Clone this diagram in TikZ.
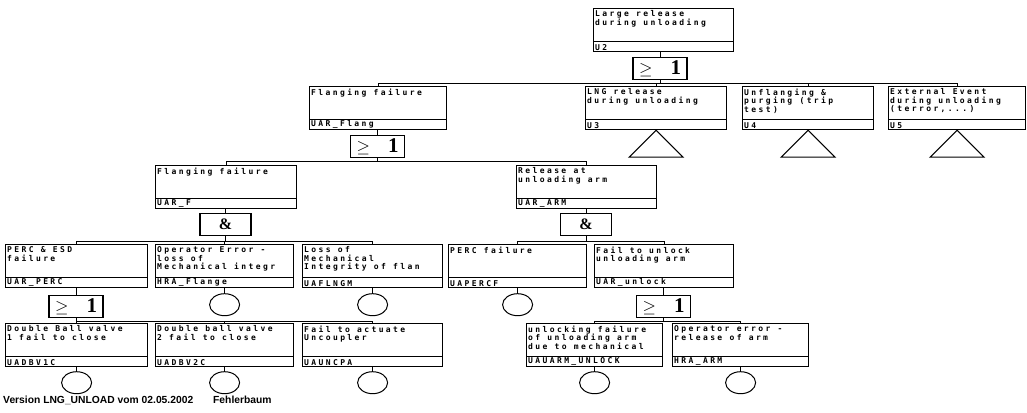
\documentclass[tikz,border=0pt]{standalone}
\usepackage{fontspec}
\setmainfont{Liberation Sans}
\newfontfamily\boxfont[LetterSpace=30,BoldFont={DejaVu Sans Mono Bold}]{DejaVu Sans Mono}
\newfontfamily\gatefont{Liberation Serif}
\usetikzlibrary{shapes.geometric,calc}

\tikzset{
 ftbox/.style={draw, line width=1.2pt, rectangle, minimum height=43pt, inner sep=0pt, anchor=north west},
 ftdesc/.style={anchor=north west, inner sep=0pt, align=left, font=\boxfont\bfseries\fontsize{8}{8.6}\selectfont},
 ftcode/.style={anchor=south west, inner sep=0pt, font=\boxfont\bfseries\fontsize{8}{8.6}\selectfont},
 ftdiv/.style={line width=1pt},
 gatebox/.style={draw, line width=1.2pt, rectangle, minimum width=54pt, minimum height=22pt, inner sep=0pt, anchor=north},
 andgate/.style={gatebox, minimum width=51pt},
 ftbasic/.style={draw, line width=1pt, ellipse, minimum width=30pt, minimum height=22pt, inner sep=0pt, anchor=north},
 fttri/.style={line width=1pt},
 ftconn/.style={line width=0.8pt},
 ftfoot/.style={anchor=base west, inner sep=0pt, font=\bfseries\fontsize{10.3}{12}\selectfont},
}

\newcommand\FTbox[6]{%
 \node[ftbox, minimum width={(#3-#2)*1pt}] (#1) at (#2pt,-#4pt) {};
 \draw[ftdiv] ([yshift=11pt]#1.south west) -- ([yshift=11pt]#1.south east);
 \node[ftdesc] (#1-d) at ([xshift=2pt,yshift=-2.5pt]#1.north west) {#5};
 \node[ftcode] (#1-c) at ([xshift=2pt,yshift=1.5pt]#1.south west) {#6};
}
\newcommand\OrSym{\makebox[42pt]{{\fontsize{16}{16}\selectfont$\geq$}\hfill{\gatefont\bfseries\fontsize{21}{21}\selectfont 1}}}
\newcommand\AndSym{{\gatefont\bfseries\fontsize{16}{16}\selectfont\&}}

\begin{document}
\begin{tikzpicture}[x=1pt,y=1pt]
\useasboundingbox (0,0) rectangle (1027,-412);

% level 0
\FTbox{u2}{593}{733}{8}{Large release\\during unloading}{U2}
\node[gatebox] (g0) at (660,-57) {\OrSym};
\draw[ftconn] (u2.south -| g0.north) -- (g0.north);
\coordinate (b0) at ([yshift=-3pt]g0.south);

% level 1
\FTbox{uarflang}{309}{446}{86}{Flanging failure}{UAR\_Flang}
\FTbox{u3}{585}{726}{86}{LNG release\\during unloading}{U3}
\FTbox{u4}{742}{873}{86}{Unflanging \&\\purging (trip\\test)}{U4}
\FTbox{u5}{888}{1025}{86}{External Event\\during unloading\\(terror,...)}{U5}
\draw[ftconn] (g0.south) -- (b0) -| (uarflang.north);
\draw[ftconn] (b0) -| (u3.north);
\draw[ftconn] (b0) -| (u4.north);
\draw[ftconn] (b0) -| (u5.north);
\draw[fttri] (u3.south) -- ++(-27,-27) -- ++(54,0) -- cycle;
\draw[fttri] (u4.south) -- ++(-27,-27) -- ++(54,0) -- cycle;
\draw[fttri] (u5.south) -- ++(-27,-27) -- ++(54,0) -- cycle;

\node[gatebox] (gF) at (377.5,-135) {\OrSym};
\draw[ftconn] (uarflang.south -| gF.north) -- (gF.north);
\coordinate (b1) at ([yshift=-3pt]gF.south);

% level 2
\FTbox{uarf}{155}{296}{165}{Flanging failure}{UAR\_F}
\FTbox{uararm}{516}{656}{165}{Release at\\unloading arm}{UAR\_ARM}
\draw[ftconn] (gF.south) -- (b1) -| (uarf.north);
\draw[ftconn] (b1) -| (uararm.north);

\node[andgate] (gA1) at (225.5,-213) {\AndSym};
\node[andgate] (gA2) at (586,-213) {\AndSym};
\draw[ftconn] (uarf.south -| gA1.north) -- (gA1.north);
\draw[ftconn] (uararm.south -| gA2.north) -- (gA2.north);
\coordinate (b2) at ([yshift=-5pt]gA1.south);
\coordinate (b3) at ([yshift=-5pt]gA2.south);

% level 3
\FTbox{uarperc}{5}{147}{244}{PERC \& ESD\\failure}{UAR\_PERC}
\FTbox{hraflange}{155}{293}{244}{Operator Error -\\loss of\\Mechanical integr}{HRA\_Flange}
\FTbox{uaflngm}{302}{442}{244}{Loss of\\Mechanical\\Integrity of flan}{UAFLNGM}
\FTbox{uapercf}{448}{586}{244}{PERC failure}{UAPERCF}
\FTbox{uarunlock}{594}{733}{244}{Fail to unlock\\unloading arm}{UAR\_unlock}
\draw[ftconn] (gA1.south) -- (b2) -| (uarperc.north);
\draw[ftconn] (b2) -| (hraflange.north);
\draw[ftconn] (b2) -| (uaflngm.north);
\draw[ftconn] (gA2.south) -- (b3) -| (uapercf.north);
\draw[ftconn] (b3) -| (uarunlock.north);

\node[ftbasic] (e1) at ([yshift=-5pt]hraflange.south) {};
\node[ftbasic] (e2) at ([yshift=-5pt]uaflngm.south) {};
\node[ftbasic] (e3) at ([yshift=-5pt]uapercf.south) {};
\draw[ftconn] (hraflange.south) -- (e1.north);
\draw[ftconn] (uaflngm.south) -- (e2.north);
\draw[ftconn] (uapercf.south) -- (e3.north);

\node[gatebox] (gP) at (76,-295) {\OrSym};
\node[gatebox] (gU) at (663.5,-295) {\OrSym};
\draw[ftconn] (uarperc.south -| gP.north) -- (gP.north);
\draw[ftconn] (uarunlock.south -| gU.north) -- (gU.north);
\coordinate (b4) at ([yshift=-3pt]gP.south);
\coordinate (b5) at ([yshift=-3pt]gU.south);

% level 4
\FTbox{uadbv1c}{5}{147}{323}{Double Ball valve\\1 fail to close}{UADBV1C}
\FTbox{uadbv2c}{155}{293}{323}{Double ball valve\\2 fail to close}{UADBV2C}
\FTbox{uauncpa}{302}{442}{323}{Fail to actuate\\Uncoupler}{UAUNCPA}
\FTbox{uauarm}{526}{662}{323}{unlocking failure\\of unloading arm\\due to mechanical}{UAUARM\_UNLOCK}
\FTbox{hraarm}{672}{808}{323}{Operator error -\\release of arm}{HRA\_ARM}
\draw[ftconn] (gP.south) -- (b4) -| (uadbv1c.north);
\draw[ftconn] (b4) -| (uadbv2c.north);
\draw[ftconn] (b4) -| (uauncpa.north);
\draw[ftconn] (gU.south) -- (b5) -| (uauarm.north);
\draw[ftconn] (b5) -| (hraarm.north);

\node[ftbasic] (e4) at ([yshift=-4pt]uadbv1c.south) {};
\node[ftbasic] (e5) at ([yshift=-4pt]uadbv2c.south) {};
\node[ftbasic] (e6) at ([yshift=-4pt]uauncpa.south) {};
\node[ftbasic] (e7) at ([yshift=-4pt]uauarm.south) {};
\node[ftbasic] (e8) at ([yshift=-4pt]hraarm.south) {};
\draw[ftconn] (uadbv1c.south) -- (e4.north);
\draw[ftconn] (uadbv2c.south) -- (e5.north);
\draw[ftconn] (uauncpa.south) -- (e6.north);
\draw[ftconn] (uauarm.south) -- (e7.north);
\draw[ftconn] (hraarm.south) -- (e8.north);

% footer
\node[ftfoot] (ver) at (3,-403) {Version LNG\_UNLOAD vom 02.05.2002};
\node[ftfoot] (fb) at (213,-403) {Fehlerbaum};
\end{tikzpicture}
\end{document}
